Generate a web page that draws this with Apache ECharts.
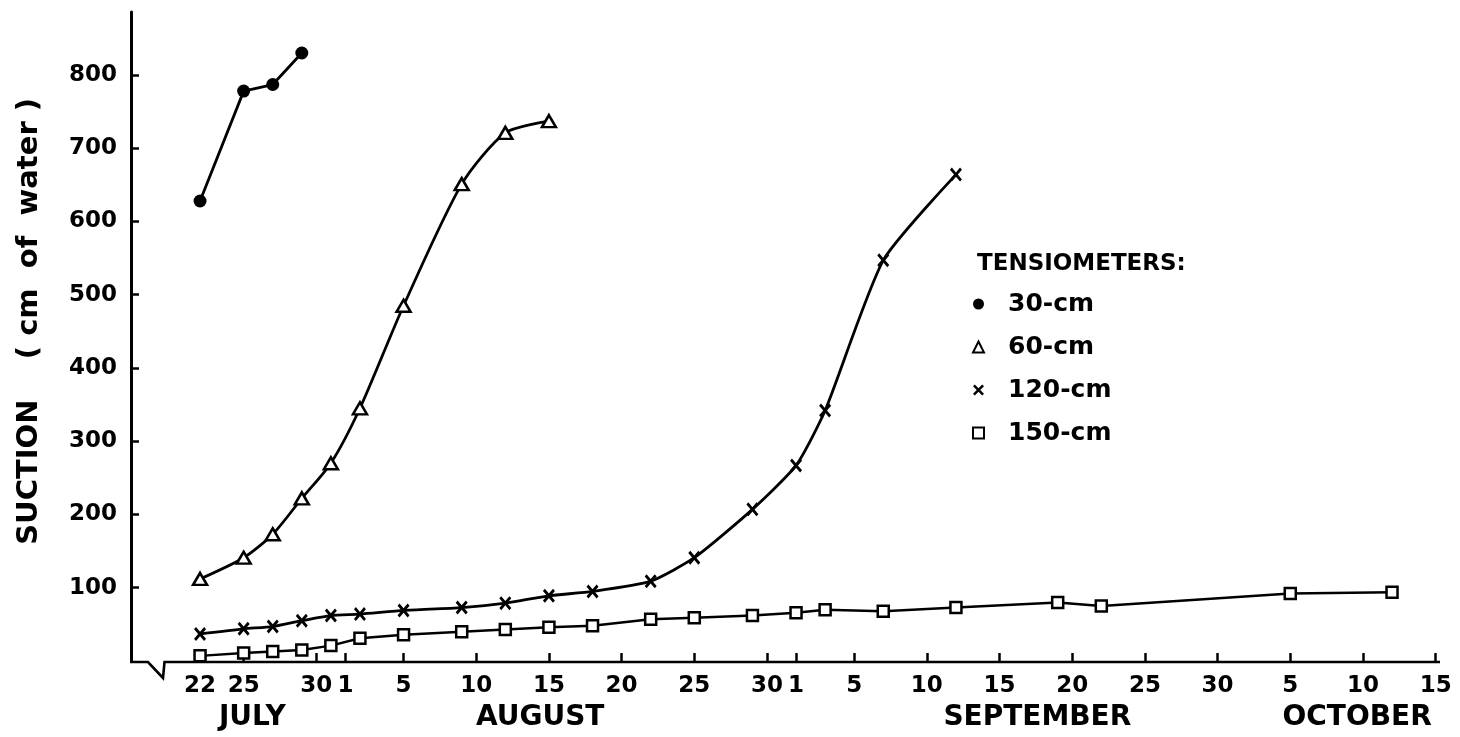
<!DOCTYPE html>
<html>
<head>
<meta charset="utf-8">
<script src="https://cdn.jsdelivr.net/npm/echarts@6/dist/echarts.min.js"></script>
<style>
html,body{margin:0;padding:0;background:#fff;}
#chart{width:1460px;height:737px;}
</style>
</head>
<body>
<div id="chart"></div>
<script>
// ---- data (dates; suction in cm of water) ----
const depth30Dates = ['Jul 22','Jul 25','Jul 27','Jul 29'];
const depth30 = [628, 778, 787, 830];

const depth60Dates = ['Jul 22','Jul 25','Jul 27','Jul 29','Jul 31','Aug 2','Aug 5','Aug 9','Aug 12','Aug 15'];
const depth60 = [112, 141, 173, 222, 270, 345, 485, 651, 721, 737];

const depth120Dates = ['Jul 22','Jul 25','Jul 27','Jul 29','Jul 31','Aug 2','Aug 5','Aug 9','Aug 12','Aug 15','Aug 18','Aug 22','Aug 25','Aug 29','Sep 1','Sep 3','Sep 7','Sep 12'];
const depth120 = [37, 44, 47, 55, 62, 64, 69, 73, 79, 89, 95, 109, 141, 207, 267, 342, 547, 664];

const depth150Dates = ['Jul 22','Jul 25','Jul 27','Jul 29','Jul 31','Aug 2','Aug 5','Aug 9','Aug 12','Aug 15','Aug 18','Aug 22','Aug 25','Aug 29','Sep 1','Sep 3','Sep 7','Sep 12','Sep 19','Sep 22','Oct 5','Oct 12'];
const depth150 = [7, 11, 13, 15, 21, 31, 36, 40, 43, 46, 48, 57, 59, 62, 66, 70, 68, 73, 80, 75, 92, 94];

const xTickDates = ['Jul 22','Jul 25','Jul 30','Aug 1','Aug 5','Aug 10','Aug 15','Aug 20','Aug 25','Aug 30','Sep 1','Sep 5','Sep 10','Sep 15','Sep 20','Sep 25','Sep 30','Oct 5','Oct 10','Oct 15'];
const xTickLabels = ['22','25','30','1','5','10','15','20','25','30','1','5','10','15','20','25','30','5','10','15'];
const monthNames = ['JULY','AUGUST','SEPTEMBER','OCTOBER'];
const monthLabelDates = ['Jul 25.6','Aug 14.4','Sep 17.6','Oct 9.6'];
const yTicks = [100,200,300,400,500,600,700,800];
const seriesNames = ['30-cm','60-cm','120-cm','150-cm'];

// ---- helpers ----
const monthOffset = {Jul:0, Aug:31, Sep:62, Oct:92};
function dayNum(s){ const p = s.split(' '); return monthOffset[p[0]] + parseFloat(p[1]); }
function pairs(dates, vals){ return dates.map((d,i)=>[dayNum(d), vals[i]]); }

const X_MIN = 17.25, X_MAX = 107.3, Y_MAX = 886;
const FONT = 'DejaVu Sans';
const xTickVals = xTickDates.map(dayNum);
const monthVals = monthLabelDates.map(dayNum);

const XSYM = 'path://M0,1.6L1.6,0L5,3.4L8.4,0L10,1.6L6.6,5L10,8.4L8.4,10L5,6.6L1.6,10L0,8.4L3.4,5Z';

const chart = echarts.init(document.getElementById('chart'), null, {renderer:'canvas'});

const option = {
  backgroundColor:'#fff',
  animation:false,
  title:[{
    text:'TENSIOMETERS:', left:972, top:248,
    textStyle:{fontFamily:FONT, fontWeight:'bold', fontSize:23, color:'#000'}
  }],
  legend:{
    orient:'vertical', left:967, top:286,
    itemWidth:11, itemHeight:11, itemGap:17,
    textStyle:{fontFamily:FONT, fontWeight:'bold', fontSize:25, color:'#000', lineHeight:26, padding:[0,0,0,19]},
    data:[
      {name:seriesNames[0], icon:'circle'},
      {name:seriesNames[1], icon:'triangle', itemStyle:{color:'#fff', borderColor:'#000', borderWidth:2}},
      {name:seriesNames[2], icon:XSYM},
      {name:seriesNames[3], icon:'rect', itemStyle:{color:'#fff', borderColor:'#000', borderWidth:2}}
    ]
  },
  grid:{left:131, right:20, top:12, bottom:76, containLabel:false},
  xAxis:[{
    type:'value', min:X_MIN, max:X_MAX, position:'bottom',
    splitLine:{show:false},
    axisLine:{show:false},
    axisTick:{show:true, inside:true, length:8, customValues:xTickVals, lineStyle:{color:'#000', width:2.5}},
    axisLabel:{
      customValues:xTickVals, margin:14,
      formatter:function(v){ const i = xTickVals.findIndex(t=>Math.abs(t-v)<1e-6); return i>=0 ? xTickLabels[i] : ''; },
      fontFamily:FONT, fontWeight:'bold', fontSize:23, color:'#000'
    }
  },{
    type:'value', min:X_MIN, max:X_MAX, position:'bottom', offset:0,
    splitLine:{show:false}, axisLine:{show:false}, axisTick:{show:false},
    axisLabel:{
      customValues:monthVals, margin:43,
      formatter:function(v){ const i = monthVals.findIndex(t=>Math.abs(t-v)<1e-6); return i>=0 ? monthNames[i] : ''; },
      fontFamily:FONT, fontWeight:'bold', fontSize:28, color:'#000'
    }
  }],
  yAxis:{
    type:'value', min:0, max:Y_MAX,
    name:'   SUCTION    ( cm  of  water )', nameLocation:'middle', nameGap:87, nameRotate:90,
    nameTextStyle:{fontFamily:FONT, fontWeight:'bold', fontSize:29, color:'#000'},
    splitLine:{show:false},
    axisLine:{show:true, lineStyle:{color:'#000', width:3}},
    axisTick:{show:true, inside:true, length:8, customValues:yTicks, lineStyle:{color:'#000', width:2.5}},
    axisLabel:{customValues:yTicks, margin:14, fontFamily:FONT, fontWeight:'bold', fontSize:23, color:'#000'}
  },
  series:[
    {
      name:seriesNames[0], type:'line', data:pairs(depth30Dates, depth30),
      symbol:'circle', symbolSize:13,
      itemStyle:{color:'#000'}, lineStyle:{color:'#000', width:2.8}, z:3
    },
    {
      name:seriesNames[1], type:'line', data:pairs(depth60Dates, depth60), smooth:0.25,
      symbol:'triangle', symbolSize:[14,12],
      itemStyle:{color:'#fff', borderColor:'#000', borderWidth:2.5}, lineStyle:{color:'#000', width:2.8}, z:3
    },
    {
      name:seriesNames[2], type:'line', data:pairs(depth120Dates, depth120), smooth:0.2,
      symbol:XSYM, symbolSize:[12,14],
      itemStyle:{color:'#000'}, lineStyle:{color:'#000', width:2.8}, z:3
    },
    {
      name:seriesNames[3], type:'line', data:pairs(depth150Dates, depth150),
      symbol:'rect', symbolSize:11,
      itemStyle:{color:'#fff', borderColor:'#000', borderWidth:2.5}, lineStyle:{color:'#000', width:2.5}, z:3
    }
  ]
};
chart.setOption(option);

// x-axis baseline with the broken-axis zigzag, positioned from the axis scale
const p0 = chart.convertToPixel({gridIndex:0}, [X_MIN, 0]);
const pEnd = chart.convertToPixel({gridIndex:0}, [X_MAX, 0]);
const y0 = p0[1] + 1;
chart.setOption({
  graphic:[{
    type:'polyline', z:10, silent:true,
    shape:{points:[[p0[0]-1, y0],[p0[0]+17, y0],[p0[0]+32, y0+16],[p0[0]+33.5, y0],[pEnd[0], y0]]},
    style:{stroke:'#000', lineWidth:2.6, fill:null, lineJoin:'miter'}
  }]
});
</script>
</body>
</html>
